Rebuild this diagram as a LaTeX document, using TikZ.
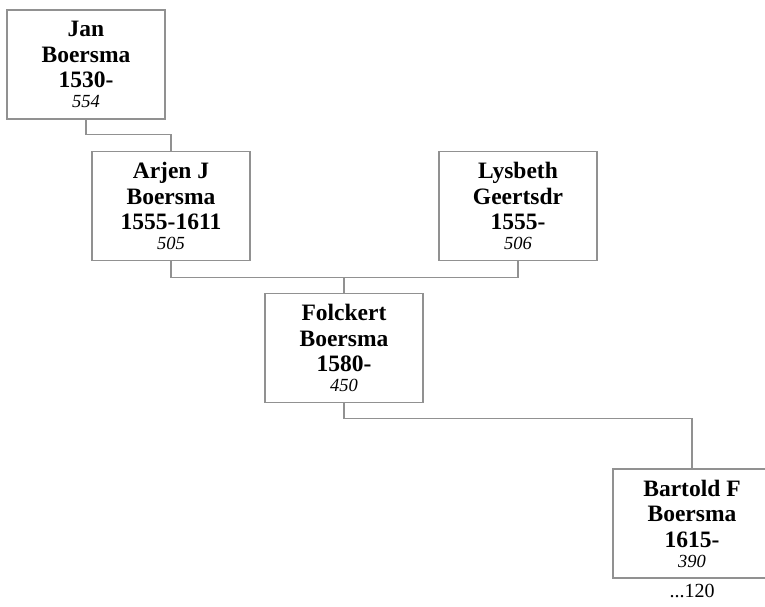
\documentclass[tikz,border=0pt]{standalone}
\usepackage{fontspec}
\setmainfont{Liberation Serif}
\definecolor{edgegray}{RGB}{145,145,145}
\tikzset{
  person/.style={draw=edgegray, line width=1.3pt, fill=white,
    minimum width=158pt, minimum height=109pt, inner sep=0pt,
    align=center, font=\fontsize{23.5}{25.5}\selectfont\bfseries},
  link/.style={draw=edgegray, line width=1.3pt}
}
\newcommand{\pid}[1]{{\fontsize{18.5}{20}\selectfont\mdseries\itshape #1}}
\begin{document}
\begin{tikzpicture}[x=1pt,y=-1pt]
\clip (0,0) rectangle (765,606);
\fill[white] (0,0) rectangle (765,606);
\node[person] (jan) at (86,64.5) {Jan\\Boersma\\1530-\\[-5.5pt]\pid{554}};
\node[person] (arjen) at (171,206) {Arjen J\\Boersma\\1555-1611\\[-5.5pt]\pid{505}};
\node[person] (lysbeth) at (518,206) {Lysbeth\\Geertsdr\\1555-\\[-5.5pt]\pid{506}};
\node[person] (folckert) at (344,348) {Folckert\\Boersma\\1580-\\[-5.5pt]\pid{450}};
\node[person] (bartold) at (692,523.5) {Bartold F\\Boersma\\1615-\\[-5.5pt]\pid{390}};
\node[font=\fontsize{20}{22}\selectfont, anchor=north, inner sep=0pt] (more) at ([yshift=-5pt]bartold.south) {...120};
\draw[link] (jan.south) -- ++(0,15) -| (arjen.north);
\draw[link] (arjen.south) -- ++(0,16) coordinate (m) -| (lysbeth.south);
\draw[link] (folckert.north) -- (folckert.north |- m);
\draw[link] (folckert.south) -- ++(0,15.5) -| (bartold.north);
\end{tikzpicture}
\end{document}
